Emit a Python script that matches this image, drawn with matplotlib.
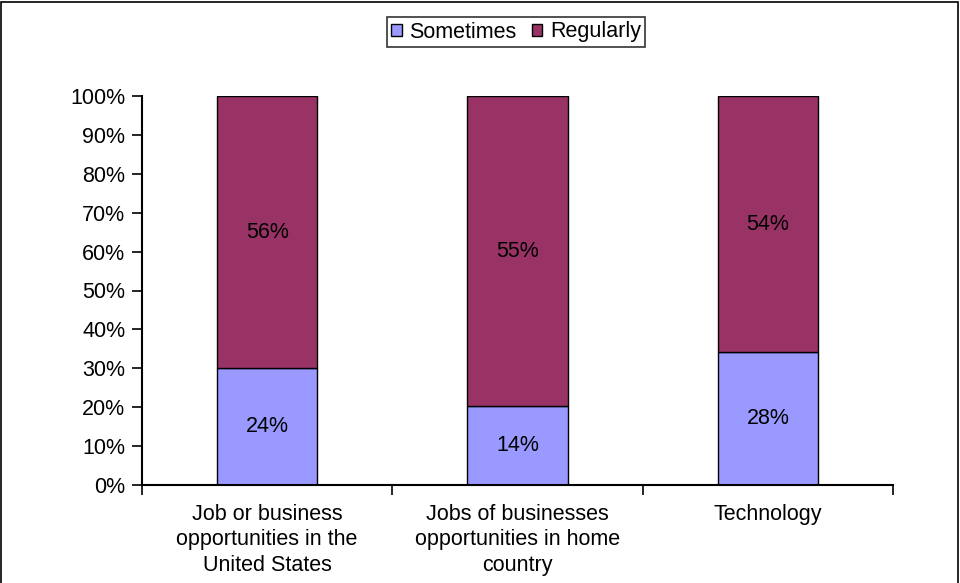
import matplotlib
matplotlib.use("Agg")
import matplotlib.pyplot as plt
from matplotlib.patches import Rectangle
from matplotlib.ticker import FuncFormatter
import numpy as np

plt.rcParams['font.family'] = ['Liberation Sans', 'DejaVu Sans']

categories = ["Job or business\nopportunities in the\nUnited States",
              "Jobs of businesses\nopportunities in home\ncountry",
              "Technology"]
sometimes = [24, 14, 28]
regularly = [56, 55, 54]
series_names = ["Sometimes", "Regularly"]
colors = ["#9999FF", "#993366"]

some = np.array(sometimes, dtype=float)
reg = np.array(regularly, dtype=float)
total = some + reg
some_pct = some / total * 100
reg_pct = reg / total * 100

FS = 15.5

fig = plt.figure(figsize=(9.6, 5.83), dpi=100)
ax = fig.add_axes([142 / 960, 1 - 485 / 583, (893 - 142) / 960, (485 - 96) / 583])

x = np.arange(len(categories))
b1 = ax.bar(x, some_pct, width=0.4, color=colors[0], edgecolor="black", linewidth=1.0,
            label=series_names[0])
b2 = ax.bar(x, reg_pct, width=0.4, bottom=some_pct, color=colors[1], edgecolor="black",
            linewidth=1.0, label=series_names[1])

for i in range(len(x)):
    ax.text(x[i], some_pct[i] / 2, f"{sometimes[i]}%", ha="center", va="center", fontsize=FS)
    ax.text(x[i], some_pct[i] + reg_pct[i] / 2, f"{regularly[i]}%", ha="center", va="center",
            fontsize=FS)

ax.set_xlim(-0.5, len(categories) - 0.5)
ax.set_ylim(0, 100)
ax.set_yticks(np.arange(0, 101, 10))
ax.yaxis.set_major_formatter(FuncFormatter(lambda v, p: f"{int(v)}%"))
ax.tick_params(axis="y", labelsize=FS, length=7, width=1.2, direction="out", pad=5)

# category labels between boundary ticks
ax.set_xticks(np.arange(-0.5, len(categories), 1.0))
ax.set_xticklabels([])
ax.tick_params(axis="x", length=7, width=1.2, direction="out")
for i, c in enumerate(categories):
    ax.text(x[i], -4.8, c, ha="center", va="top", fontsize=FS, linespacing=1.3)

for s in ["top", "right"]:
    ax.spines[s].set_visible(False)
for s in ["left", "bottom"]:
    ax.spines[s].set_linewidth(1.5)

leg = fig.legend(handles=[b1, b2], labels=series_names, loc="center",
                 bbox_to_anchor=(516 / 960, 1 - 32 / 583), ncol=2, fontsize=FS,
                 frameon=True, fancybox=False, edgecolor="black", handlelength=0.5,
                 handleheight=0.5, handletextpad=0.35, columnspacing=0.7,
                 borderpad=0.2, borderaxespad=0)
leg.get_frame().set_linewidth(1.2)

fig.patches.append(Rectangle((1 / 960, -0.05), 957 / 960, 1.05 - 1.5 / 583,
                             transform=fig.transFigure, fill=False, edgecolor="black",
                             linewidth=1.2, clip_on=False))

fig.savefig("out.png", dpi=100)
